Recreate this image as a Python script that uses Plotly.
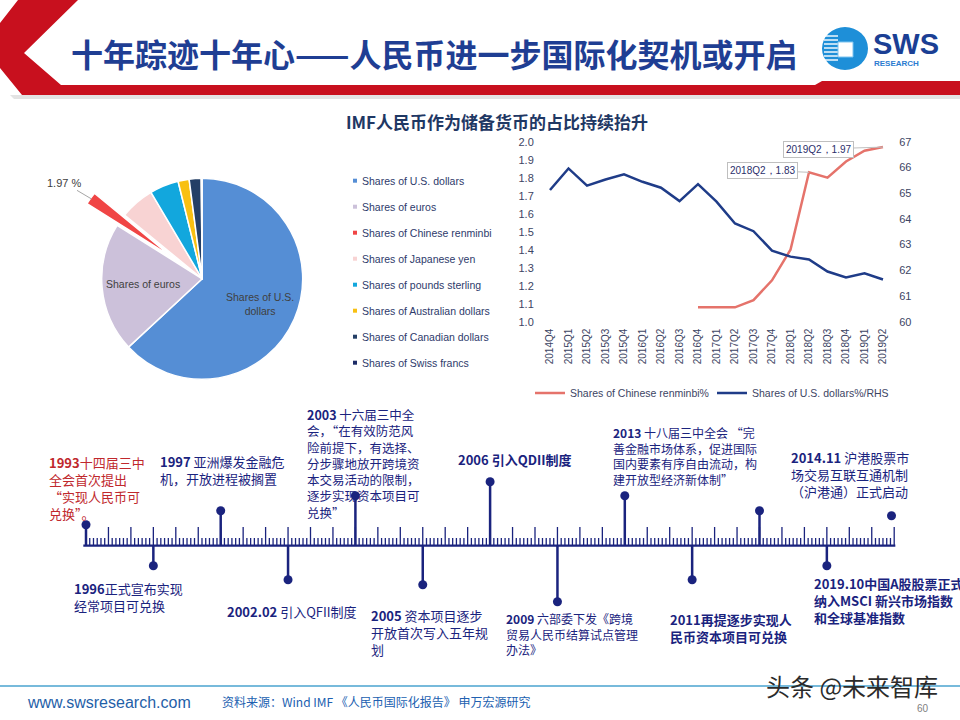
import math
import plotly.graph_objects as go

W, H = 960, 720


def X(px):
    return px / W


def Y(py):
    return 1 - py / H


# ---------------- data ----------------
quarters = ["2014Q4", "2015Q1", "2015Q2", "2015Q3", "2015Q4",
            "2016Q1", "2016Q2", "2016Q3", "2016Q4",
            "2017Q1", "2017Q2", "2017Q3", "2017Q4",
            "2018Q1", "2018Q2", "2018Q3", "2018Q4",
            "2019Q1", "2019Q2"]
rmb_share = [None, None, None, None, None, None, None, None,
             1.08, 1.08, 1.08, 1.12, 1.23, 1.40, 1.83, 1.80, 1.89, 1.95, 1.97]
usd_share = [65.12, 65.96, 65.29, 65.53, 65.73, 65.44, 65.21, 64.69, 65.35,
             64.67, 63.82, 63.52, 62.76, 62.53, 62.42, 61.95, 61.72, 61.88, 61.64]
callout_quarters = ["2018Q2", "2019Q2"]

pie_names = ["Shares of U.S. dollars", "Shares of euros", "Shares of Chinese renminbi",
             "Shares of Japanese yen", "Shares of pounds sterling",
             "Shares of Australian dollars", "Shares of Canadian dollars",
             "Shares of Swiss francs"]
pie_values = [61.63, 20.35, 1.97, 5.41, 4.54, 1.74, 1.88, 0.15]
pie_inside = ["Shares of U.S.<br>dollars", "Shares of euros"]

tl_text = [
    "<b>1993</b>十四届三中<br>全会首次提出<br>“实现人民币可<br>兑换”。",
    "<b>1996</b>正式宣布实现<br>经常项目可兑换",
    "<b>1997</b> 亚洲爆发金融危<br>机，开放进程被搁置",
    "<b>2002.02</b> 引入QFII制度",
    "<b>2003</b> 十六届三中全<br>会，“在有效防范风<br>险前提下，有选择、<br>分步骤地放开跨境资<br>本交易活动的限制，<br>逐步实现资本项目可<br>兑换”",
    "<b>2005</b> 资本项目逐步<br>开放首次写入五年规<br>划",
    "<b>2006 引入QDII制度</b>",
    "<b>2009</b> 六部委下发《跨境<br>贸易人民币结算试点管理<br>办法》",
    "<b>2013</b> 十八届三中全会 “完<br>善金融市场体系，促进国际<br>国内要素有序自由流动，构<br>建开放型经济新体制”",
    "<b>2011再提逐步实现人</b><br><b>民币资本项目可兑换</b>",
    "<b>2014.11</b> 沪港股票市<br>场交易互联互通机制<br>（沪港通）正式启动",
    "<b>2019.10中国A股股票正式</b><br><b>纳入MSCI 新兴市场指数</b><br><b>和全球基准指数</b>",
]

# ---------------- styles ----------------
CJK = "Noto Sans CJK SC"
LAT = "Liberation Sans, Arial"
NAVY_TXT = "#2d3a6b"
AXIS_TXT = "#3c4463"
RED_LINE = "#e5736b"
NAVY_LINE = "#1f3c88"
TL_NAVY = "#1a237e"
TL_RED = "#c0282d"
pie_colors = ["#558ed5", "#ccc1da", "#f04545", "#f8d3d3", "#12a7dd",
              "#f8c012", "#243f66", "#1c2b66"]
pie_pull = [0, 0, 0.37, 0, 0, 0, 0, 0]
pie_label_rfrac = [0.63, 0.59]

# timeline styling
tl_side = [1, -1, 1, -1, 1, -1, 1, -1, 1, -1, 1, -1]
stem_len = [21, 20, 35, 34, 50, 39, 64, 56, 50, 34, 35, 20]
label_left_px = [47, 72, 157.7, 225, 305, 368.7, 456, 504.3, 610.7, 667.7, 789.3, 812.3]
label_mid_px = [487.7, 596.5, 470, 611.7, 463.3, 632.3, 459, 634, 456.2, 628.3, 474.2, 600.3]
label_size = [13, 13, 13, 13, 12.5, 13, 13, 12, 12, 13, 13, 13]

fig = go.Figure()

# ---------------- pie ----------------
pie_cx, pie_cy, pie_r = 202.2, 278.8, 100.5
half = pie_r * (1 + max(pie_pull))
fig.add_trace(go.Pie(
    labels=pie_names, values=pie_values, sort=False, direction="clockwise",
    rotation=0, pull=pie_pull, textinfo="none",
    marker=dict(colors=pie_colors, line=dict(color="white", width=1.5)),
    domain=dict(x=[X(pie_cx - half), X(pie_cx + half)],
                y=[Y(pie_cy + half), Y(pie_cy - half)]),
    showlegend=False, hoverinfo="skip"))

# ---------------- line chart ----------------
fig.add_trace(go.Scatter(
    x=quarters, y=rmb_share, mode="lines", name="Shares of Chinese renminbi%",
    line=dict(color=RED_LINE, width=2.5), xaxis="x", yaxis="y",
    legend="legend2", hoverinfo="skip"))
fig.add_trace(go.Scatter(
    x=quarters, y=usd_share, mode="lines", name="Shares of U.S. dollars%/RHS",
    line=dict(color=NAVY_LINE, width=2.5), xaxis="x", yaxis="y2",
    legend="legend2", hoverinfo="skip"))

# ---------------- timeline ----------------
u = 22.45          # px per ruler major tick
t0 = 86            # px of first tick
base = 545.7       # px of ruler baseline
n_major = 3 * len(tl_text)

rx, ry = [], []
for k in range(n_major + 1):
    rx += [k, k, None]
    ry += [0, 18.7, None]
    if k < n_major:
        for m in range(1, 6):
            rx += [k + m / 6, k + m / 6, None]
            ry += [0, 7.7, None]
fig.add_trace(go.Scatter(x=rx, y=ry, mode="lines",
                         line=dict(color=TL_NAVY, width=1.3),
                         xaxis="x3", yaxis="y3", showlegend=False, hoverinfo="skip"))
fig.add_trace(go.Scatter(x=[-0.12, n_major + 0.05], y=[0, 0], mode="lines",
                         line=dict(color=TL_NAVY, width=2.2),
                         xaxis="x3", yaxis="y3", showlegend=False, hoverinfo="skip"))

sx, sy, dx, dy = [], [], [], []
for i, (s, L) in enumerate(zip(tl_side, stem_len)):
    sx += [3 * i, 3 * i, None]
    sy += [0, s * L, None]
    dx.append(3 * i)
    dy.append(s * L)
dx.append(n_major - 0.12)
dy.append(30)
fig.add_trace(go.Scatter(x=sx, y=sy, mode="lines", line=dict(color=TL_NAVY, width=2.5),
                         xaxis="x3", yaxis="y3", showlegend=False, hoverinfo="skip"))
fig.add_trace(go.Scatter(x=dx, y=dy, mode="markers",
                         marker=dict(color=TL_NAVY, size=9),
                         xaxis="x3", yaxis="y3", showlegend=False, hoverinfo="skip"))

annotations = []
for i, txt in enumerate(tl_text):
    annotations.append(dict(
        text=txt, xref="x3", yref="y3",
        x=(label_left_px[i] - t0) / u, y=base - label_mid_px[i],
        xanchor="left", yanchor="middle", align="left", showarrow=False,
        font=dict(family=CJK, size=label_size[i], color=TL_RED if i == 0 else TL_NAVY)))

# ---------------- line chart callouts ----------------
callout_offsets = [(-47, -2), (-65, 2)]
for q, (ax, ay) in zip(callout_quarters, callout_offsets):
    v = rmb_share[quarters.index(q)]
    annotations.append(dict(
        text=f"{q}，{v:.2f}", x=q, y=v, xref="x", yref="y",
        ax=ax, ay=ay, showarrow=True, arrowhead=0, arrowwidth=1,
        arrowcolor="#bfbfbf", bordercolor="#bfbfbf", borderwidth=1, borderpad=2,
        bgcolor="white", font=dict(family=LAT, size=10, color="#2b2f6b")))

# ---------------- pie slice labels ----------------
tot = sum(pie_values)
for i, (txt, fr) in enumerate(zip(pie_inside, pie_label_rfrac)):
    mid = 2 * math.pi * (sum(pie_values[:i]) + pie_values[i] / 2) / tot
    lx = pie_cx + fr * pie_r * math.sin(mid)
    ly = pie_cy - fr * pie_r * math.cos(mid)
    annotations.append(dict(text=txt, xref="paper", yref="paper", x=X(lx), y=Y(ly),
                            xanchor="center", yanchor="middle", showarrow=False,
                            font=dict(family=LAT, size=10.5, color="#404040")))

cum = sum(pie_values[:2]) + pie_values[2] / 2
theta = 2 * math.pi * cum / tot
tip = pie_r * (1 + pie_pull[2]) - 1
tip_x = pie_cx + tip * math.sin(theta)
tip_y = pie_cy - tip * math.cos(theta)
annotations.append(dict(
    text=f"{pie_values[2]:.2f} %", xref="paper", yref="paper",
    x=X(tip_x), y=Y(tip_y), ax=-27, ay=-16, showarrow=True, arrowhead=0,
    arrowwidth=1, arrowcolor="#a6a6a6",
    font=dict(family=LAT, size=11, color="#404040")))

# ---------------- pie legend (manual) ----------------
shapes = []
for i, (nm, c) in enumerate(zip(pie_names, pie_colors)):
    yy = 180.7 + 26 * i
    shapes.append(dict(type="rect", xref="paper", yref="paper",
                       x0=X(353), x1=X(357), y0=Y(yy + 2), y1=Y(yy - 2),
                       fillcolor=c, line=dict(width=0)))
    annotations.append(dict(text=nm, xref="paper", yref="paper", x=X(360), y=Y(yy),
                            xanchor="left", yanchor="middle", showarrow=False,
                            font=dict(family=LAT, size=10.5, color=NAVY_TXT)))

# ---------------- header ----------------
def path(pts):
    return "M " + " L ".join(f"{X(a):.5f},{Y(b):.5f}" for a, b in pts) + " Z"


shapes.append(dict(type="path", xref="paper", yref="paper",
                   path=path([(10, 95), (960, 95), (960, 99), (14, 99)]),
                   fillcolor="#e3e3e3", line=dict(width=0)))
shapes.append(dict(type="path", xref="paper", yref="paper",
                   path=path([(18, 0), (78, 0), (24, 53), (61, 85), (815, 85), (822, 81),
                              (960, 81), (960, 95), (22, 95), (0, 68), (0, 23)]),
                   fillcolor="#c8101e", line=dict(width=0)))
# logo
shapes.append(dict(type="circle", xref="paper", yref="paper",
                   x0=X(822), x1=X(868), y0=Y(70), y1=Y(27),
                   fillcolor="#1e8fd8", line=dict(width=0)))
for yy in [36, 40, 44, 48, 52, 56, 60]:
    shapes.append(dict(type="line", xref="paper", yref="paper",
                       x0=X(824), x1=X(838), y0=Y(yy), y1=Y(yy),
                       line=dict(color="white", width=1.4)))
shapes.append(dict(type="rect", xref="paper", yref="paper",
                   x0=X(838), x1=X(853), y0=Y(57), y1=Y(42),
                   fillcolor="white", line=dict(color="#7cc4f0", width=1)))
annotations.append(dict(text="<b>SWS</b>", xref="paper", yref="paper", x=X(871), y=Y(44),
                        xanchor="left", yanchor="middle", showarrow=False,
                        font=dict(family=LAT, size=29, color="#1b3f94")))
annotations.append(dict(text="<b>RESEARCH</b>", xref="paper", yref="paper", x=X(872), y=Y(63),
                        xanchor="left", yanchor="middle", showarrow=False,
                        font=dict(family=LAT, size=8, color="#2b7bd0")))
annotations.append(dict(text="<b>十年踪迹十年心——人民币进一步国际化契机或开启</b>",
                        xref="paper", yref="paper", x=X(434), y=Y(53),
                        xanchor="center", yanchor="middle", showarrow=False,
                        font=dict(family=CJK, size=32, color="#1f3e93")))

# chart title
annotations.append(dict(text="<b>IMF人民币作为储备货币的占比持续抬升</b>",
                        xref="paper", yref="paper", x=X(497), y=Y(121),
                        xanchor="center", yanchor="middle", showarrow=False,
                        font=dict(family=CJK, size=17, color="#1f3864")))

# ---------------- footer ----------------
shapes.append(dict(type="line", xref="paper", yref="paper", x0=0, x1=1,
                   y0=Y(686), y1=Y(686), line=dict(color="#4aa3cf", width=1.5)))
annotations.append(dict(text="www.swsresearch.com", xref="paper", yref="paper",
                        x=X(25), y=Y(702), xanchor="left", yanchor="middle",
                        showarrow=False, font=dict(family=LAT, size=16, color="#1f5fa8")))
annotations.append(dict(text="资料来源：Wind IMF 《人民币国际化报告》 申万宏源研究",
                        xref="paper", yref="paper", x=X(220), y=Y(701),
                        xanchor="left", yanchor="middle", showarrow=False,
                        font=dict(family=CJK, size=12, color="#2060b0")))
annotations.append(dict(text="60", xref="paper", yref="paper", x=X(923), y=Y(708),
                        xanchor="center", yanchor="middle", showarrow=False,
                        font=dict(family=LAT, size=10, color="#7f7f7f")))
annotations.append(dict(text="头条 @未来智库", xref="paper", yref="paper", x=X(852), y=Y(685),
                        xanchor="center", yanchor="middle", showarrow=False,
                        font=dict(family=CJK, size=24, color="#2b2b2b")))

fig.update_layout(
    width=W, height=H, autosize=False,
    margin=dict(l=0, r=0, t=0, b=0, pad=0, autoexpand=False),
    paper_bgcolor="white", plot_bgcolor="rgba(0,0,0,0)",
    xaxis=dict(domain=[X(540.75), X(892.25)], anchor="y", type="category",
               range=[-0.5, 18.5], showgrid=False, zeroline=False, showline=False,
               ticks="", tickangle=-90, ticklabelstandoff=4, automargin=False,
               tickfont=dict(family=LAT, size=10, color=AXIS_TXT)),
    yaxis=dict(domain=[Y(321.7), Y(141.7)], anchor="x", range=[1.0, 2.0],
               tick0=1.0, dtick=0.1, tickformat=".1f", showgrid=False,
               zeroline=False, showline=False, ticks="", ticklabelstandoff=6,
               automargin=False,
               tickfont=dict(family=LAT, size=11, color=AXIS_TXT)),
    yaxis2=dict(overlaying="y", side="right", anchor="x", range=[60, 67], dtick=1,
                showgrid=False, zeroline=False, showline=False, ticks="",
                ticklabelstandoff=6, automargin=False,
                tickfont=dict(family=LAT, size=11, color=AXIS_TXT)),
    xaxis3=dict(domain=[0, 1], anchor="y3", range=[-t0 / u, (W - t0) / u],
                visible=False, fixedrange=True, automargin=False),
    yaxis3=dict(domain=[0, 1], anchor="x3", range=[-(H - base), base],
                visible=False, fixedrange=True, automargin=False),
    showlegend=True,
    legend=dict(visible=False),
    legend2=dict(orientation="h", x=X(530), xanchor="left", y=Y(393), yanchor="middle",
                 font=dict(family=LAT, size=10.5, color=AXIS_TXT),
                 entrywidth=137, entrywidthmode="pixels", bgcolor="rgba(0,0,0,0)"),
    annotations=annotations, shapes=shapes,
)

fig.write_html("out.html")
